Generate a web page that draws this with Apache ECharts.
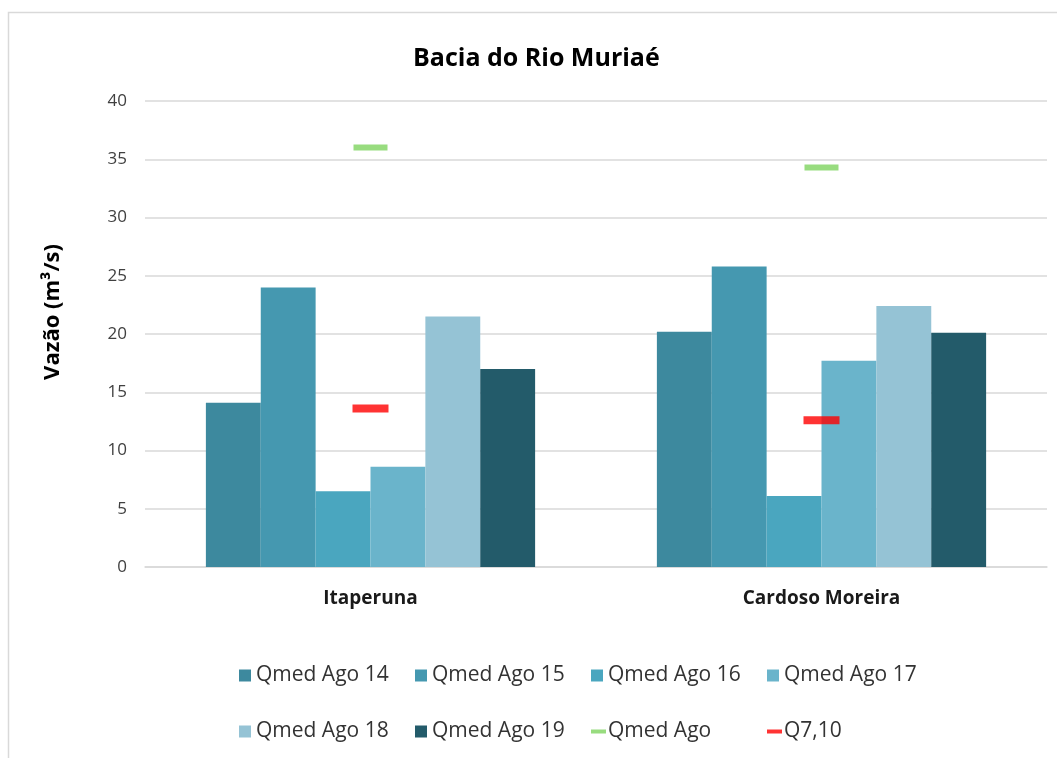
<!DOCTYPE html>
<html>
<head>
<meta charset="utf-8">
<script src="https://cdn.jsdelivr.net/npm/echarts@6/dist/echarts.min.js"></script>
<style>html,body{margin:0;padding:0;background:#fff}#c{width:1057px;height:758px}</style>
</head>
<body>
<div id="c"></div>
<script>
const categories = ['Itaperuna', 'Cardoso Moreira'];
const yTicks = [0, 5, 10, 15, 20, 25, 30, 35, 40];
const q14 = [14.1, 20.2];
const q15 = [24.0, 25.8];
const q16 = [6.5, 6.1];
const q17 = [8.6, 17.7];
const q18 = [21.5, 22.4];
const q19 = [17.0, 20.1];
const qmedAgo = [36.0, 34.3];
const q710 = [13.6, 12.6];

const barNames = ['Qmed Ago 14', 'Qmed Ago 15', 'Qmed Ago 16', 'Qmed Ago 17', 'Qmed Ago 18', 'Qmed Ago 19'];
const barData = [q14, q15, q16, q17, q18, q19];
const barColors = ['#3d899e', '#4598b0', '#4aa6bf', '#6ab4cb', '#95c3d5', '#235b6a'];

const FONT = 'Open Sans';
const series = barNames.map((n, i) => ({
  name: n, type: 'bar', data: barData[i], barGap: '0%', barCategoryGap: '27%',
  itemStyle: { color: barColors[i] }
}));
series.push({
  name: 'Qmed Ago', type: 'scatter', data: qmedAgo, symbol: 'rect', symbolSize: [34, 6], z: 5,
  itemStyle: { color: '#7ed35f' }
});
series.push({
  name: 'Q7,10', type: 'scatter', data: q710, symbol: 'rect', symbolSize: [36, 8], z: 5,
  itemStyle: { color: '#ff0000' }
});

const legendOrder = barNames.concat(['Qmed Ago', 'Q7,10']);
const colX = [239, 415, 591, 767];
const rowY = [665, 721];
const legends = legendOrder.map((n, i) => {
  const isLine = i >= 6;
  return {
    data: [{ name: n, icon: 'rect' }],
    left: colX[i % 4], top: rowY[Math.floor(i / 4)], padding: 0,
    itemWidth: isLine ? 15 : 12, itemHeight: isLine ? 4 : 12, itemGap: 7,
    textStyle: { fontFamily: FONT, fontSize: 21, color: '#333333', padding: [0, 0, 0, isLine ? -3 : 0] },
    selectedMode: false
  };
});

const chart = echarts.init(document.getElementById('c'), null, { renderer: 'canvas' });
chart.setOption({
  animation: false,
  backgroundColor: '#fff',
  title: {
    text: 'Bacia do Rio Muriaé', left: 413, top: 46, padding: 0,
    textStyle: { fontFamily: FONT, fontSize: 25, fontWeight: 'bold', color: '#000' }
  },
  legend: legends,
  grid: { left: 145, right: 10, top: 101, bottom: 191 },
  xAxis: {
    type: 'category', data: categories,
    axisLine: { lineStyle: { color: '#d9d9d9', width: 1.5 } },
    axisTick: { show: false },
    axisLabel: { fontFamily: FONT, fontSize: 19, fontWeight: 'bold', color: '#1a1a1a', margin: 22 }
  },
  yAxis: {
    type: 'value', min: yTicks[0], max: yTicks[yTicks.length - 1], interval: 5,
    axisLine: { show: false }, axisTick: { show: false },
    splitLine: { lineStyle: { color: '#d9d9d9', width: 1.5 } },
    axisLabel: { fontFamily: FONT, fontSize: 17, color: '#404040', margin: 18 }
  },
  graphic: [
    { type: 'rect', shape: { x: 8.5, y: 12.5, width: 1100, height: 800 },
      style: { fill: 'none', stroke: '#d9d9d9', lineWidth: 1.5 }, silent: true, z: -10 },
    { type: 'text', x: 53, y: 312, rotation: Math.PI / 2,
      style: { text: 'Vazão (m³/s)', font: 'bold 22px "Open Sans"', fill: '#000',
        textAlign: 'center', textVerticalAlign: 'middle' } }
  ],
  series: series
});
</script>
</body>
</html>
